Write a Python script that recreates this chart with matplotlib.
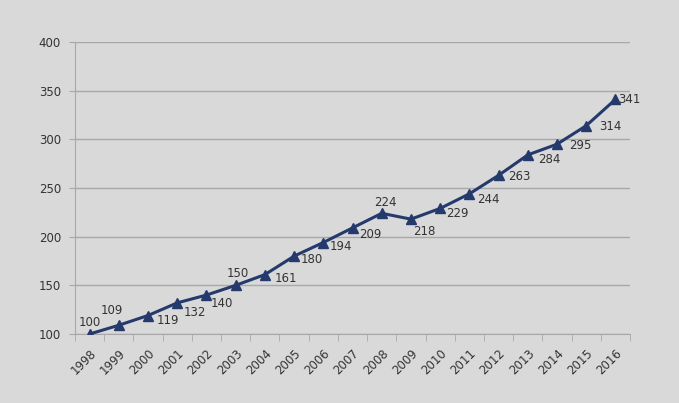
from matplotlib import pyplot as plt
import numpy as np

years = [str(y) for y in range(1998, 2017)]
values = [100, 109, 119, 132, 140, 150, 161, 180, 194, 209, 224, 218, 229, 244, 263, 284, 295, 314, 341]

# label placement (offset in pixels) per point
label_offsets = [(0, 11), (-7, 15), (9, -5), (6, -10), (4, -8), (2, 12), (10, -4), (7, -3), (6, -4),
                 (7, -7), (4, 11), (13, -12), (6, -5), (8, -6), (10, -1), (10, -5), (12, -1), (13, -1), (3, 0)]
label_ha = ["center", "center", "left", "left", "left", "center", "left", "left", "left",
            "left", "center", "center", "left", "left", "left", "left", "left", "left", "left"]


def plot_chart():
    bg = "#d9d9d9"
    line_col = "#253a6c"
    grid_col = "#a8a8a8"
    text_col = "#333333"

    fig = plt.figure(figsize=(6.79, 4.03), dpi=100, facecolor=bg)
    ax = fig.add_axes([75 / 679, 1 - 334 / 403, 555 / 679, 292 / 403])
    ax.set_facecolor(bg)

    x = np.arange(len(values))
    ax.plot(x, values, color=line_col, lw=2.2, marker="^", ms=7, mfc=line_col, mec=line_col, zorder=3)

    for xi, v, off, ha in zip(x, values, label_offsets, label_ha):
        ax.annotate(str(v), (xi, v), xytext=off, textcoords="offset pixels", ha=ha, va="center",
                    fontsize=8.5, color=text_col)

    ax.set_xlim(-0.5, len(values) - 0.5)
    ax.set_ylim(100, 400)
    ax.set_yticks(np.arange(100, 401, 50))
    ax.yaxis.grid(True, color=grid_col, lw=1)
    ax.set_axisbelow(True)

    ax.set_xticks(x)
    ax.set_xticklabels(years, rotation=45, ha="right", rotation_mode="anchor", fontsize=8.5, color=text_col)
    ax.tick_params(axis="x", length=0, pad=9)
    ax.set_xticks(np.arange(-0.5, len(values)), minor=True)
    ax.tick_params(axis="x", which="minor", length=5, color=grid_col)
    ax.tick_params(axis="y", length=4, color=grid_col, labelsize=8.5, labelcolor=text_col, pad=6)

    for side in ["top", "right"]:
        ax.spines[side].set_visible(False)
    for side in ["left", "bottom"]:
        ax.spines[side].set_color(grid_col)

    plt.savefig("out.png", dpi=100, facecolor=bg)
    plt.close()


if __name__ == "__main__":
    plot_chart()
